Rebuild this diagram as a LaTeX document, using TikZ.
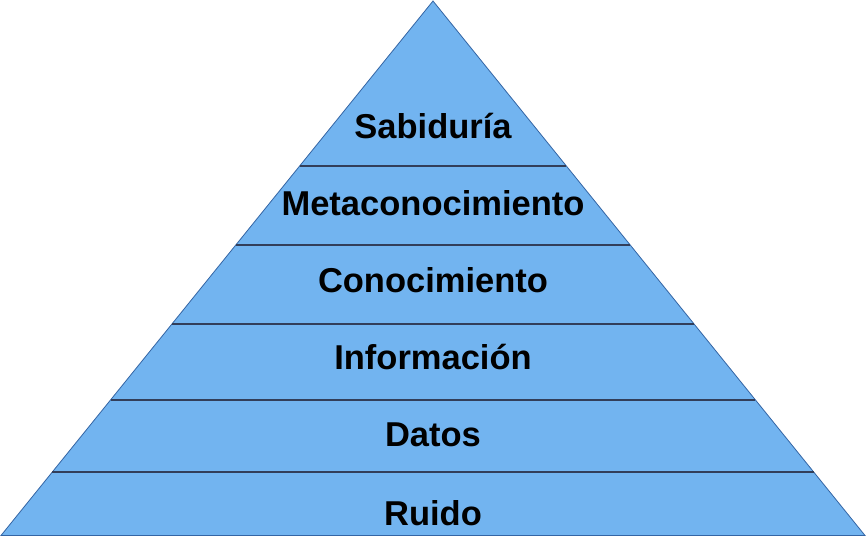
\documentclass[tikz,border=0pt]{standalone}
\usepackage{fontspec}
\usetikzlibrary{calc}
\setmainfont{Liberation Sans}
\definecolor{pyrfill}{RGB}{114,180,240}
\definecolor{pyredge}{RGB}{52,101,164}
\definecolor{sepline}{RGB}{50,62,90}
\begin{document}
\begin{tikzpicture}[x=1pt,y=-1pt,
  layer/.style={font=\bfseries\fontsize{34.5}{36}\selectfont, text=black, inner sep=0pt},
  sep/.style={draw=sepline, line width=1.1pt}]
\useasboundingbox (0,0) rectangle (867,537);
\coordinate (apex) at (433,1);
\coordinate (bl) at (1,535.5);
\coordinate (br) at (865,535.5);
\filldraw[fill=pyrfill, draw=pyredge, line width=0.8pt] (apex) -- (br) -- (bl) -- cycle;
% separators
\foreach \y in {166,245,324,400,472}{
  \draw[sep] ($(apex)!{(\y-1)/534.5}!(bl)$) -- ($(apex)!{(\y-1)/534.5}!(br)$);
}
\node[layer] (s) at (433,126) {Sabiduría};
\node[layer] (m) at (433,203) {Metaconocimiento};
\node[layer] (c) at (433,280) {Conocimiento};
\node[layer] (i) at (433,357) {Información};
\node[layer] (d) at (433,435) {Datos};
\node[layer] (r) at (433,513) {Ruido};
\end{tikzpicture}
\end{document}
